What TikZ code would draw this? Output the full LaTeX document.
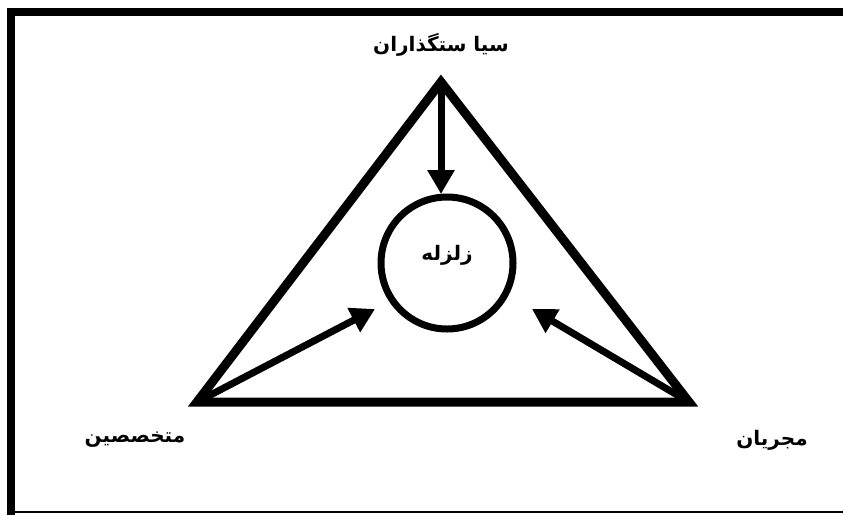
\documentclass[tikz,border=0pt]{standalone}
\usepackage{fontspec}
\usetikzlibrary{arrows.meta}
\TeXXeTstate=1
\newfontfamily\arabicfont[Script=Arabic]{DejaVu Sans}
\begin{document}
\begin{tikzpicture}[x=1pt,y=-1pt,
  edge/.style={line width=9pt,line join=miter},
  arr/.style={line width=7pt,-{Triangle[length=24pt,width=26pt]}},
  lbl/.style={font=\arabicfont\bfseries\fontsize{20}{24}\selectfont}]
\useasboundingbox (0,0) rectangle (843,515);
\draw[line width=8pt] (11,515) -- (11,12) -- (843,12);
\draw[line width=2pt] (11,512) -- (843,512);
\coordinate (top) at (441,82);
\coordinate (bl) at (197,402);
\coordinate (br) at (689,402);
\draw[edge] (bl) -- (top) -- (br) -- cycle;
\node[circle,draw,line width=7pt,minimum size=132pt,inner sep=0pt] (quake) at (447,263) {};
\node[lbl] (qlabel) at (447,255) {\beginR زلزله\endR};
\node[lbl] (pol) at (441,45) {\beginR سیا ستگذاران\endR};
\node[lbl] (spec) at (135,440) {\beginR متخصصین\endR};
\node[lbl] (exec) at (772,440) {\beginR مجریان\endR};
\coordinate (t1) at (441,194);
\coordinate (t2) at (375,309);
\coordinate (t3) at (532,309);
\draw[arr] (top) -- (t1);
\draw[arr] (bl) -- (t2);
\draw[arr] (br) -- (t3);
\end{tikzpicture}
\end{document}
